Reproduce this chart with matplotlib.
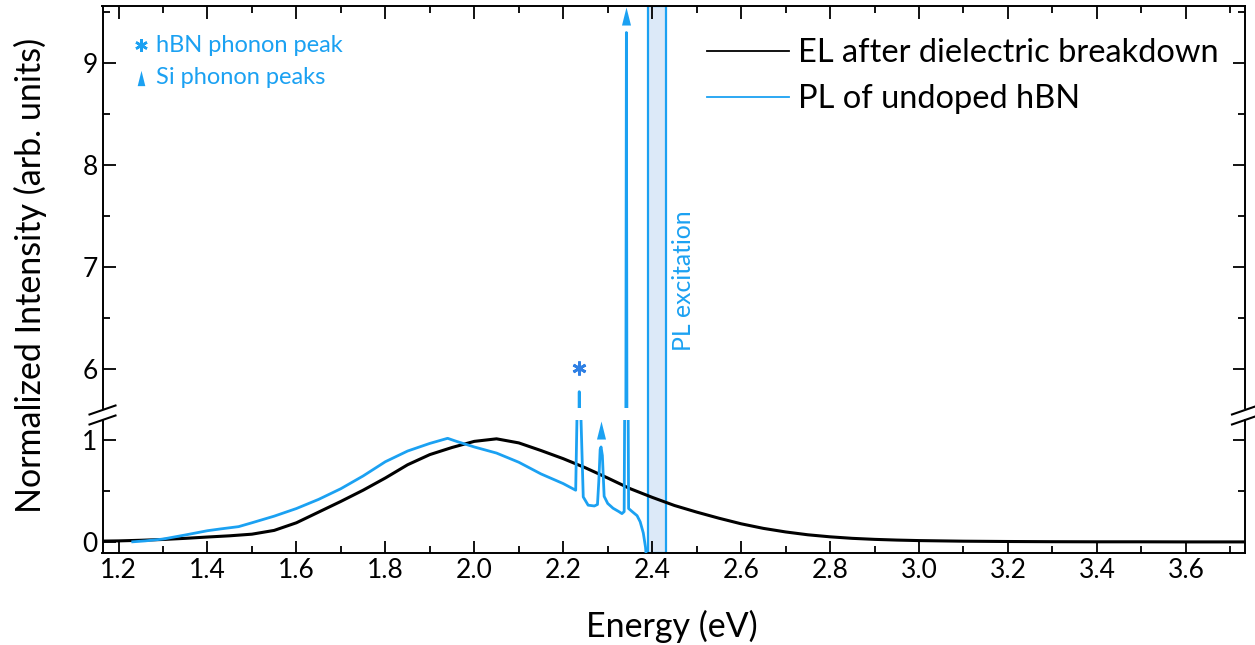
import matplotlib
matplotlib.use("Agg")
import matplotlib.pyplot as plt
from matplotlib.path import Path
import numpy as np

plt.rcParams['font.family'] = ['Lato', 'DejaVu Sans']

# ---------------- data ----------------
el_x = [1.165, 1.20, 1.25, 1.30, 1.35, 1.40, 1.45, 1.50, 1.55, 1.60, 1.65, 1.70,
        1.75, 1.80, 1.85, 1.90, 1.95, 2.00, 2.05, 2.10, 2.15, 2.20, 2.25, 2.30,
        2.35, 2.40, 2.45, 2.50, 2.55, 2.60, 2.65, 2.70, 2.75, 2.80, 2.85, 2.90,
        2.95, 3.00, 3.10, 3.20, 3.30, 3.40, 3.50, 3.60, 3.73]
el_y = [0.010, 0.012, 0.018, 0.026, 0.037, 0.050, 0.062, 0.078, 0.115, 0.190,
        0.295, 0.400, 0.510, 0.630, 0.760, 0.860, 0.930, 0.990, 1.015, 0.975,
        0.900, 0.820, 0.730, 0.630, 0.526, 0.440, 0.360, 0.295, 0.235, 0.180,
        0.135, 0.100, 0.072, 0.052, 0.037, 0.027, 0.020, 0.015, 0.009, 0.006,
        0.004, 0.003, 0.003, 0.002, 0.002]

pl_x = [1.232, 1.26, 1.30, 1.35, 1.40, 1.43, 1.47, 1.50, 1.55, 1.60, 1.65, 1.70,
        1.75, 1.80, 1.85, 1.90, 1.94, 1.96, 2.00, 2.05, 2.10, 2.15, 2.20, 2.228,
        2.232, 2.234, 2.236, 2.238, 2.240, 2.245, 2.256, 2.270, 2.277, 2.280,
        2.283, 2.285, 2.288, 2.292, 2.300, 2.312, 2.325, 2.332, 2.337, 2.340,
        2.342, 2.344, 2.347, 2.355, 2.366, 2.373, 2.380, 2.385, 2.390]
pl_y = [0.003, 0.012, 0.030, 0.070, 0.112, 0.130, 0.152, 0.190, 0.255, 0.330,
        0.420, 0.525, 0.650, 0.790, 0.895, 0.970, 1.020, 0.990, 0.935, 0.875,
        0.785, 0.670, 0.575, 0.510, 1.50, 4.50, 5.78, 4.50, 1.20, 0.444, 0.363,
        0.355, 0.370, 0.600, 0.910, 0.935, 0.850, 0.450, 0.380, 0.333, 0.300,
        0.280, 0.300, 3.00, 9.30, 3.00, 0.330, 0.300, 0.260, 0.200, 0.090,
        -0.05, -0.30]

x_ticks = [1.2, 1.4, 1.6, 1.8, 2.0, 2.2, 2.4, 2.6, 2.8, 3.0, 3.2, 3.4, 3.6]
low_ticks = [0, 1]
high_ticks = [6, 7, 8, 9]

excitation = (2.391, 2.431)
hbn_peak = (2.236, 6.01)
si_peaks = [(2.285, 1.10), (2.342, 9.46)]

# ---------------- style ----------------
BLUE = "#1ba1f2"
DARKBLUE = "#2f80e4"
BAND = "#dce9f8"
XLIM = (1.164, 3.733)

W, H = 1255, 645
fig = plt.figure(figsize=(W / 100, H / 100), dpi=100)

left = 102.5 / W
right = 1245 / W
ax_bg = fig.add_axes([left, 1 - 553 / H, right - left, (553 - 6) / H], zorder=0)
ax_bg.set_xlim(*XLIM)
ax_bg.axis('off')
ax_bg.axvspan(*excitation, facecolor=BAND, edgecolor=BLUE, lw=1.6)

ax_lo = fig.add_axes([left, 1 - 553 / H, right - left, (553 - 420) / H], zorder=1)
ax_hi = fig.add_axes([left, 1 - 408 / H, right - left, (408 - 6) / H], zorder=1)

tri = Path([(-0.5, -1), (0.5, -1), (0, 1), (-0.5, -1)],
           [Path.MOVETO, Path.LINETO, Path.LINETO, Path.CLOSEPOLY])

for ax in (ax_lo, ax_hi):
    ax.set_facecolor('none')
    ax.plot(el_x, el_y, color="black", lw=2.2, zorder=3)
    ax.plot(pl_x, pl_y, color=BLUE, lw=2.0, zorder=4)
    ax.set_xlim(*XLIM)
    ax.set_xticks(x_ticks)
    ax.set_xticks(np.arange(1.2, 3.75, 0.1), minor=True)
    ax.tick_params(which='both', direction='in', width=1.3, labelsize=19,
                   left=True, right=True, top=True, bottom=True)
    ax.tick_params(which='major', length=9)
    ax.tick_params(which='minor', length=5)
    for s in ax.spines.values():
        s.set_linewidth(1.4)

ax_lo.set_ylim(-0.107, 1.2)
ax_lo.set_yticks(low_ticks)
ax_lo.set_yticks([0.5], minor=True)
ax_lo.spines['top'].set_visible(False)
ax_lo.tick_params(which='both', top=False)
ax_lo.set_xticklabels([f"{v:.1f}" for v in x_ticks])

ax_hi.set_ylim(5.62, 9.56)
ax_hi.set_yticks(high_ticks)
ax_hi.set_yticks([6.5, 7.5, 8.5, 9.5], minor=True)
ax_hi.spines['bottom'].set_visible(False)
ax_hi.tick_params(which='both', bottom=False, labelbottom=False)

# peak markers
ax_hi.plot(*hbn_peak, marker=(6, 2, 0), color=DARKBLUE, ms=10, mew=2, zorder=5)
ax_lo.plot(*si_peaks[0], marker=tri, color=BLUE, ms=13, mew=0, zorder=5)
ax_hi.plot(*si_peaks[1], marker=tri, color=BLUE, ms=13, mew=0, zorder=5,
           clip_on=False)

# PL excitation label
ax_hi.text(2.47, 6.87, "PL excitation", rotation=90, color=BLUE, fontsize=17.8,
           ha='center', va='center')

# annotations key
def ax_frac(px, py):
    return ((px - 102.5) / 1142.5, (408 - py) / 402)

ax_hi.plot(*ax_frac(141, 45), marker=(6, 2, 0), color=BLUE, ms=9, mew=1.8,
           transform=ax_hi.transAxes)
ax_hi.text(*ax_frac(156, 45), "hBN phonon peak", color=BLUE, fontsize=17,
           va='center', ha='left', transform=ax_hi.transAxes)
ax_hi.plot(*ax_frac(141, 78), marker=tri, color=BLUE, ms=11, mew=0,
           transform=ax_hi.transAxes)
ax_hi.text(*ax_frac(156, 78), "Si phonon peaks", color=BLUE, fontsize=17,
           va='center', ha='left', transform=ax_hi.transAxes)

# legend
h1, = ax_hi.plot([], [], color="black", lw=1.3)
h2, = ax_hi.plot([], [], color=BLUE, lw=1.3)
ax_hi.legend([h1, h2], ["EL after dielectric breakdown", "PL of undoped hBN"],
             loc='upper left', bbox_to_anchor=ax_frac(707, 38), frameon=False,
             fontsize=23.5, handlelength=2.5, handletextpad=0.28,
             borderpad=0, borderaxespad=0, labelspacing=0.5)

# break marks
def brk(x_px, y_px):
    fig.add_artist(plt.Line2D([(x_px - 13) / W, (x_px + 13) / W],
                              [1 - (y_px + 4.5) / H, 1 - (y_px - 4.5) / H],
                              color='black', lw=1.5, zorder=3))
for xp in (102.5, 1245):
    brk(xp, 410)
    brk(xp, 420)

fig.text(0.5355, 1 - 626 / H, "Energy (eV)", fontsize=24.5, ha='center', va='center')
fig.text(30 / W, 1 - 275 / H, "Normalized Intensity (arb. units)", fontsize=24.5,
         rotation=90, ha='center', va='center')

fig.savefig("out.png", dpi=100)
